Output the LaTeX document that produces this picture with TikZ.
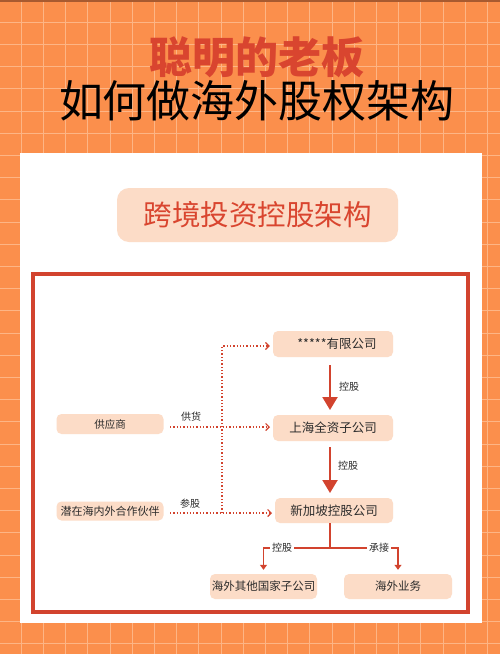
\documentclass[tikz,border=0pt]{standalone}
\usepackage{fontspec}
\setmainfont{Noto Sans CJK SC}
\usetikzlibrary{arrows.meta}
\definecolor{bgorange}{HTML}{FB8F4C}
\definecolor{gridline}{HTML}{FDB585}
\definecolor{topstrip}{HTML}{A85A30}
\definecolor{peach}{HTML}{FCDCC7}
\definecolor{redc}{HTML}{D2432E}
\definecolor{titlered}{HTML}{D9452F}
\definecolor{txt}{HTML}{2B2B2B}
\tikzset{
  box/.style={rounded corners=5pt, fill=peach, inner sep=0pt, text=txt},
  lbl/.style={text=txt, font=\fontsize{10}{12}\selectfont, inner sep=1pt},
  dotline/.style={redc, line width=1.3pt, dotted, -{Straight Barb[length=3.5pt,width=7pt,line width=1.2pt]}},
  bigarrow/.style={redc, line width=2.2pt, -{Triangle[length=13pt,width=15pt]}},
  brline/.style={redc, line width=1.8pt},
  smallarrow/.style={redc, line width=1.8pt, -{Triangle[length=5pt,width=7pt]}},
}
\begin{document}
\begin{tikzpicture}[x=1pt,y=-1pt]
\useasboundingbox (0,0) rectangle (500,654);
% background
\fill[bgorange] (0,0) rectangle (500,654);
\foreach \i in {1,...,22} {\draw[gridline, line width=0.9pt] (22.2*\i-1,0) -- (22.2*\i-1,654);}
\foreach \j in {1,...,29} {\draw[gridline, line width=0.9pt] (0,22.2*\j) -- (500,22.2*\j);}
\fill[topstrip] (0,0) rectangle (500,1.5);
% white panel
\fill[white] (20,153) rectangle (482,623);
% titles
\node[text=titlered, font=\fontsize{43}{48}\selectfont\bfseries] (t1) at (257,57) {聪明的老板};
\node[text=black, font=\fontsize{44}{50}\selectfont] (t2) at (257,101) {如何做海外股权架构};
% subtitle
\node[box, rounded corners=12pt, minimum width=281pt, minimum height=54pt, text=titlered, font=\fontsize{28.5}{32}\selectfont] (sub) at (257.5,215) {跨境投资控股架构};
% red frame
\draw[redc, line width=4pt] (33,274) rectangle (468,612);
% nodes
\node[box, minimum width=120pt, minimum height=26pt, font=\fontsize{12.5}{14}\selectfont] (ltd) at (333,344) {\hspace{8pt}*****有限公司};
\node[box, minimum width=120pt, minimum height=26pt, font=\fontsize{12.5}{14}\selectfont] (sh) at (333,428) {上海全资子公司};
\node[box, minimum width=118pt, minimum height=25pt, font=\fontsize{12.5}{14}\selectfont] (sg) at (334,510.5) {新加坡控股公司};
\node[box, minimum width=107pt, minimum height=20pt, font=\fontsize{10.5}{12}\selectfont] (sup) at (110,424) {供应商};
\node[box, minimum width=107pt, minimum height=19pt, font=\fontsize{11}{12}\selectfont] (partner) at (110,511) {潜在海内外合作伙伴};
\node[box, minimum width=107pt, minimum height=25pt, font=\fontsize{11.5}{13}\selectfont] (ov1) at (263.5,586.5) {海外其他国家子公司};
\node[box, minimum width=108pt, minimum height=25pt, font=\fontsize{11.5}{13}\selectfont] (ov2) at (398,586.5) {海外业务};
% control arrows
\draw[bigarrow, shorten <=8pt, shorten >=5pt] (330,357) coordinate (a1s) -- (330,415) coordinate (a1e);
\node[lbl] (l1) at (349,387) {控股};
\draw[bigarrow, shorten <=6pt, shorten >=5pt] (330,441) coordinate (a2s) -- (330,498) coordinate (a2e);
\node[lbl] (l2) at (348,466) {控股};
% dotted connectors
\coordinate (j1) at (222,346);
\coordinate (j2) at (222,513);
\draw[dotline, shorten <=7pt, shorten >=3pt] (163,427) coordinate (d1s) -- (273,427) coordinate (d1e);
\draw[dotline, shorten <=7pt, shorten >=3pt] (163,513) coordinate (d2s) -- (275,513) coordinate (d2e);
\draw[dotline] (j2) -- (j1) -- ([xshift=-3pt]ltd.west |- j1);
\node[lbl] (l3) at (191,417) {供货};
\node[lbl] (l4) at (190,504) {参股};
% branches
\coordinate (br) at (330,548);
\draw[brline] (330,523) -- (br);
\draw[smallarrow, shorten >=4pt] (br) -| (ov1.north);
\draw[smallarrow, shorten >=4pt] (br) -| (ov2.north);
\node[lbl, fill=white, inner sep=2pt] (l5) at (282,548) {控股};
\node[lbl, fill=white, inner sep=2pt] (l6) at (379,548) {承接};
\end{tikzpicture}
\end{document}
